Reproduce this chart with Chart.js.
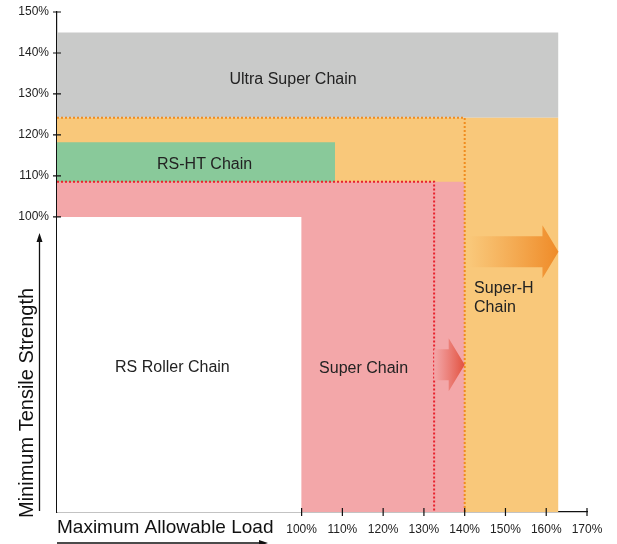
<!DOCTYPE html>
<html lang="en">
<head>
    <meta charset="UTF-8">
    <title>Chain Strength vs Load</title>
    <script src="https://cdn.jsdelivr.net/npm/chart.js"></script>
    <style>
        body { margin: 0; background: #fff; }
        canvas { display: block; }
    </style>
</head>
<body>
    <canvas id="chainChart" width="617" height="544"></canvas>

    <script>
        // axis ranges (percent) and tick labels
        const loadMin = 40, loadMax = 170;
        const strengthMin = 28, strengthMax = 150;
        const loadTicks = [100, 110, 120, 130, 140, 150, 160, 170];
        const strengthTicks = [100, 110, 120, 130, 140, 150];

        // chain zones: right edge on load axis, lower / upper edge on strength axis
        const chains = ['Ultra Super Chain', 'Super-H Chain', 'Super Chain', 'RS-HT Chain', 'RS Roller Chain'];
        const zoneLoad = [163, 163, 140, 108.2, 100];
        const zoneLow = [124.2, 28, 28, 108.6, 28];
        const zoneHigh = [145, 124.2, 108.6, 118.2, 100];
        const zoneColors = ['#c9cac9', '#f9c87a', '#f3a7a9', '#89c99a', '#ffffff'];

        // label anchor points (load, strength)
        const labelLoad = [97.9, 142.3, 115.2, 76.2, 68.3];
        const labelStrength = [133.4, 82.4, 63.1, 112.7, 63.3];

        // dotted limit lines: Super-H and Super chain corners
        const limitLoad = [140, 132.5];
        const limitStrength = [124.2, 108.6];
        const limitColors = ['#f08c1e', '#e8222d'];

        // arrows: from load, to load, at strength
        const arrowFrom = [141, 132.5];
        const arrowTo = [163, 140];
        const arrowAt = [91.5, 63.9];
        const arrowColors = [['rgba(249,200,122,0.9)', '#ef8b28'], ['rgba(243,167,169,0.9)', '#e2513f']];

        let datasets = [];
        // dotted lines on top
        limitLoad.forEach((lx, i) => {
            datasets.push({
                data: [{ x: loadMin, y: limitStrength[i] }, { x: lx, y: limitStrength[i] }, { x: lx, y: strengthMin }],
                borderColor: limitColors[i], borderWidth: 2, borderDash: [2, 2],
                pointRadius: 0, fill: false, showLine: true, order: 0
            });
        });
        // zones: later in list sits on top
        chains.forEach((name, i) => {
            datasets.push({
                label: name,
                data: [{ x: loadMin, y: zoneHigh[i] }, { x: zoneLoad[i], y: zoneHigh[i] }],
                borderWidth: 0, borderColor: 'transparent',
                backgroundColor: zoneColors[i],
                fill: { value: zoneLow[i] },
                pointRadius: 0, showLine: true,
                order: 10 - i
            });
        });

        const decorations = {
            id: 'decorations',
            afterDatasetsDraw(chart) {
                const c = chart.ctx, xs = chart.scales.x, ys = chart.scales.y;
                // arrows
                arrowFrom.forEach((fx, i) => {
                    const x0 = xs.getPixelForValue(fx), x1 = xs.getPixelForValue(arrowTo[i]);
                    const y = ys.getPixelForValue(arrowAt[i]);
                    const hl = 16, sh = 15.5, hh = 26.5;
                    const g = c.createLinearGradient(x0, 0, x1, 0);
                    g.addColorStop(0, arrowColors[i][0]);
                    g.addColorStop(1, arrowColors[i][1]);
                    c.save();
                    c.fillStyle = g;
                    c.beginPath();
                    c.moveTo(x0, y - sh);
                    c.lineTo(x1 - hl, y - sh);
                    c.lineTo(x1 - hl, y - hh);
                    c.lineTo(x1, y);
                    c.lineTo(x1 - hl, y + hh);
                    c.lineTo(x1 - hl, y + sh);
                    c.lineTo(x0, y + sh);
                    c.closePath();
                    c.fill();
                    c.restore();
                });
                // zone labels
                c.save();
                c.font = '16px "Liberation Sans", Arial, sans-serif';
                c.fillStyle = '#222';
                c.textBaseline = 'middle';
                chains.forEach((name, i) => {
                    const px = xs.getPixelForValue(labelLoad[i]);
                    const py = ys.getPixelForValue(labelStrength[i]);
                    if (name === 'Super-H Chain') {
                        c.textAlign = 'left';
                        c.fillText('Super-H', px, py);
                        c.fillText('Chain', px, py + 19);
                    } else {
                        c.textAlign = 'center';
                        c.fillText(name, px, py);
                    }
                });
                c.restore();
            },
            afterDraw(chart) {
                const c = chart.ctx, xs = chart.scales.x, ys = chart.scales.y;
                const a = chart.chartArea;
                c.save();
                c.strokeStyle = '#111';
                c.lineWidth = 1.2;
                // tick marks crossing the axes
                c.beginPath();
                loadTicks.forEach(v => {
                    const px = xs.getPixelForValue(v);
                    c.moveTo(px, a.bottom - 4); c.lineTo(px, a.bottom + 4);
                });
                strengthTicks.forEach(v => {
                    const py = ys.getPixelForValue(v);
                    c.moveTo(a.left - 4, py); c.lineTo(a.left + 4, py);
                });
                c.stroke();

                // axis titles with arrows
                c.fillStyle = '#111';
                c.font = '19px "Liberation Sans", Arial, sans-serif';
                c.textAlign = 'left';
                c.textBaseline = 'alphabetic';
                c.fillText('Maximum Allowable Load', a.left, 533);
                c.save();
                c.translate(33, 518);
                c.rotate(-Math.PI / 2);
                c.font = '20px "Liberation Sans", Arial, sans-serif';
                c.fillText('Minimum Tensile Strength', 0, 0);
                c.restore();

                c.lineWidth = 1.3;
                c.beginPath();
                c.moveTo(a.left, 543); c.lineTo(262, 543);
                c.moveTo(39.5, 511); c.lineTo(39.5, 240);
                c.stroke();
                c.beginPath();
                c.moveTo(268, 543); c.lineTo(259, 540); c.lineTo(259, 546); c.closePath();
                c.moveTo(39.5, 233); c.lineTo(36.5, 242); c.lineTo(42.5, 242); c.closePath();
                c.fill();
                c.restore();
            }
        };

        const tickFont = { family: '"Liberation Sans", Arial, sans-serif', size: 12 };

        new Chart(document.getElementById('chainChart').getContext('2d'), {
            type: 'scatter',
            data: { datasets: datasets },
            options: {
                responsive: false,
                animation: false,
                devicePixelRatio: 1,
                layout: { padding: { top: 12, right: 30, left: 0, bottom: 0 } },
                plugins: { legend: { display: false }, tooltip: { enabled: false } },
                scales: {
                    x: {
                        type: 'linear', min: loadMin, max: loadMax,
                        afterBuildTicks: s => { s.ticks = loadTicks.map(v => ({ value: v })); },
                        afterFit: s => { s.height = 32; },
                        grid: { display: false, drawTicks: false },
                        border: { display: true, color: '#111', width: 1.2 },
                        ticks: { callback: v => v + '%', color: '#222', font: tickFont, padding: 10, maxRotation: 0 }
                    },
                    y: {
                        type: 'linear', min: strengthMin, max: strengthMax,
                        afterBuildTicks: s => { s.ticks = strengthTicks.map(v => ({ value: v })); },
                        afterFit: s => { s.width = 57; s.paddingTop = 0; s.paddingBottom = 0; },
                        grid: { display: false, drawTicks: false },
                        border: { display: true, color: '#111', width: 1.2 },
                        ticks: { callback: v => v + '%', color: '#222', font: tickFont, padding: 8 }
                    }
                }
            },
            plugins: [decorations]
        });
    </script>
</body>
</html>
